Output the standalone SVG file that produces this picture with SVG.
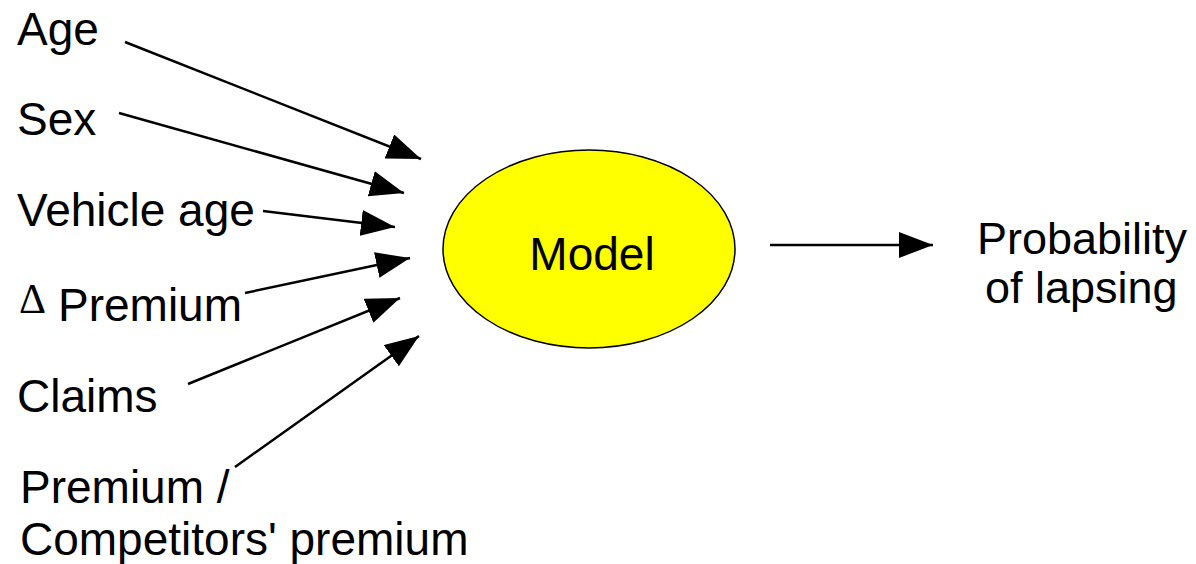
<svg xmlns="http://www.w3.org/2000/svg" width="1196" height="564" viewBox="0 0 1196 564">
<style>
text{font-family:"Liberation Sans",Arial,sans-serif;font-size:46px;fill:#000}
.c line{stroke:#000;stroke-width:2.5;marker-end:url(#ah)}
</style>
<defs>
<marker id="ah" markerUnits="userSpaceOnUse" markerWidth="34" markerHeight="26" viewBox="0 0 34 26" refX="34" refY="13" orient="auto">
<path d="M0,0 L34,13 L0,26 Z" fill="#000"/>
</marker>
</defs>
<rect width="1196" height="564" fill="#fff"/>
<g id="model"><ellipse cx="589" cy="249" rx="146" ry="99" fill="#ffff00" stroke="#000" stroke-width="1.5"/><text x="592" y="270" text-anchor="middle">Model</text></g>
<g id="age"><text x="17" y="45">Age</text></g>
<g id="sex"><text x="17" y="135">Sex</text></g>
<g id="vehicle-age"><text x="17" y="226">Vehicle age</text></g>
<g id="delta-premium"><text x="19" y="313" style="font-size:42px;font-family:'Liberation Serif',serif">Δ</text><text x="58" y="321">Premium</text></g>
<g id="claims"><text x="17" y="412">Claims</text></g>
<g id="premium-ratio"><text x="20" y="503">Premium /</text><text x="20" y="555">Competitors' premium</text></g>
<g id="probability"><text x="977" y="254" style="font-size:45px">Probability</text><text x="985" y="303" style="font-size:45px">of lapsing</text></g>
<g class="c" id="connectors">
<line x1="125" y1="42" x2="421" y2="159"/>
<line x1="119" y1="113" x2="404" y2="193"/>
<line x1="263" y1="211" x2="395" y2="227"/>
<line x1="245" y1="293" x2="410" y2="258"/>
<line x1="188" y1="384" x2="400" y2="298"/>
<line x1="235" y1="467" x2="419" y2="336"/>
<line x1="770" y1="245" x2="933" y2="245"/>
</g>
</svg>
